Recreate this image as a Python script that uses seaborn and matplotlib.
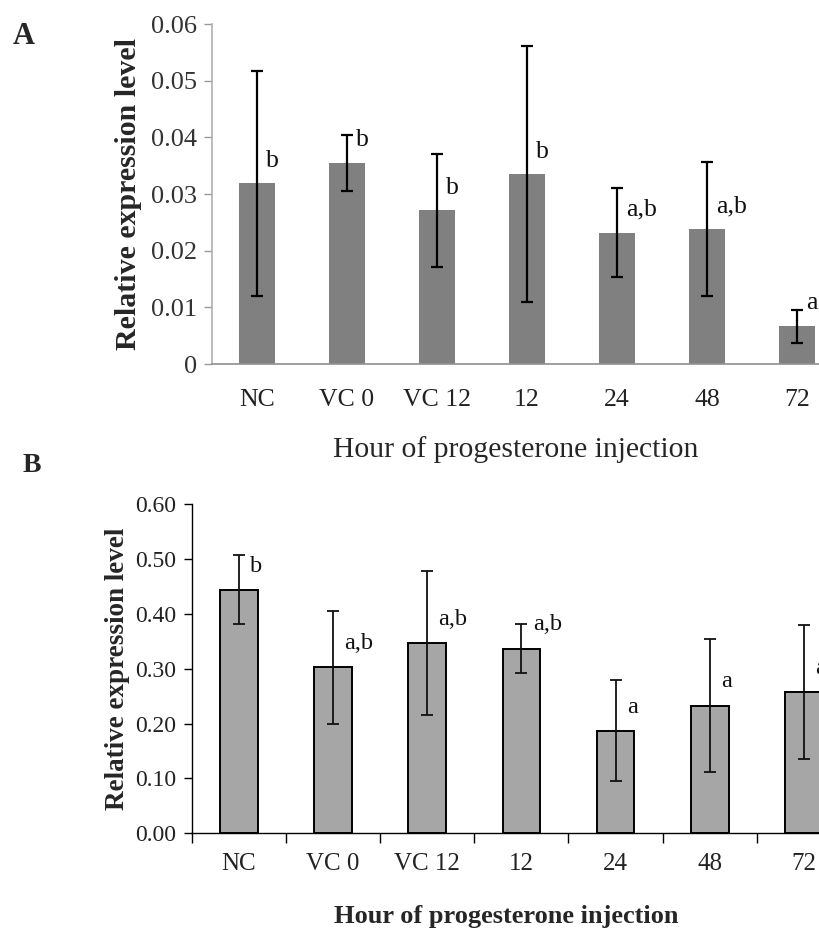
import matplotlib
matplotlib.use("Agg")
import matplotlib.pyplot as plt
import seaborn as sns
import numpy as np
import pandas as pd

categories = ["NC", "VC 0", "VC 12", "12", "24", "48", "72"]

a_means = [0.0319, 0.0355, 0.0271, 0.0335, 0.0232, 0.0238, 0.0067]
a_errs = [0.0199, 0.0050, 0.0099, 0.0226, 0.0078, 0.0118, 0.0029]
a_letters = ["b", "b", "b", "b", "a,b", "a,b", "a"]
a_yticks = [0, 0.01, 0.02, 0.03, 0.04, 0.05, 0.06]
a_yticklabels = ["0", "0.01", "0.02", "0.03", "0.04", "0.05", "0.06"]

b_means = [0.444, 0.303, 0.347, 0.337, 0.187, 0.233, 0.257]
b_errs = [0.063, 0.103, 0.132, 0.044, 0.092, 0.122, 0.122]
b_letters = ["b", "a,b", "a,b", "a,b", "a", "a", "a"]
b_yticks = [0.0, 0.1, 0.2, 0.3, 0.4, 0.5, 0.6]
b_yticklabels = ["0.00", "0.10", "0.20", "0.30", "0.40", "0.50", "0.60"]

sns.set_theme(style="white")
plt.rcParams["font.family"] = ["Liberation Serif", "DejaVu Serif"]

fig = plt.figure(figsize=(8.2, 9.32), dpi=100)

# ---------- Panel A ----------
axA = fig.add_axes([0.2585, 0.6094, 1.0 - 0.2585, 0.9742 - 0.6094])
dfA = pd.DataFrame({"cat": categories, "val": a_means})
sns.barplot(data=dfA, x="cat", y="val", ax=axA, color="#808080", saturation=1,
            width=0.4, edgecolor="#808080", linewidth=0)
xs = np.arange(len(categories))
axA.errorbar(xs, a_means, yerr=a_errs, fmt="none", ecolor="black",
             elinewidth=1.6, capsize=4.5, capthick=1.6)
for x, m, lab in zip(xs, a_means, a_letters):
    axA.text(x + 0.1, m + 0.004, lab, ha="left", va="center", fontsize=18.5,
             color="#111111")
axA.set_ylim(0, 0.06)
axA.set_xlim(-0.5, 6.256)
axA.set_yticks(a_yticks)
axA.set_yticklabels(a_yticklabels, fontsize=19, color="#333333")
axA.set_xticks(xs)
axA.set_xticklabels(categories, fontsize=18.5, color="#222222")
axA.tick_params(axis="x", length=0, pad=18)
axA.tick_params(axis="y", length=6, width=1, color="#999999", pad=5, left=True, direction="out")
for s in ["top", "right"]:
    axA.spines[s].set_visible(False)
axA.spines["left"].set_color("#b0b0b0")
axA.spines["bottom"].set_color("#909090")
axA.spines["left"].set_linewidth(1.2)
axA.spines["bottom"].set_linewidth(1.2)
axA.set_ylabel("Relative expression level", fontsize=21.5, fontweight="bold", labelpad=6)
axA.set_xlabel("Hour of progesterone injection", fontsize=21.3, labelpad=18)
fig.text(0.016, 0.953, "A", fontsize=22, fontweight="bold")

# ---------- Panel B ----------
axB = fig.add_axes([0.2337, 0.1059, 1.0 - 0.2337, 0.4589 - 0.1059])
dfB = pd.DataFrame({"cat": categories, "val": b_means})
sns.barplot(data=dfB, x="cat", y="val", ax=axB, color="#a6a6a6", saturation=1,
            width=0.4, edgecolor="black", linewidth=1.4)
axB.errorbar(xs, b_means, yerr=b_errs, fmt="none", ecolor="#111111",
             elinewidth=1.3, capsize=4.5, capthick=1.3)
for x, m, lab in zip(xs, b_means, b_letters):
    axB.text(x + 0.12, m + 0.043, lab, ha="left", va="center", fontsize=17.5,
             color="#111111")
axB.set_ylim(0, 0.6)
axB.set_xlim(-0.5, 6.17)
axB.set_yticks(b_yticks)
axB.set_yticklabels(b_yticklabels, fontsize=17, color="#222222")
axB.set_xticks(np.arange(-0.5, 6.0, 1.0), minor=True)
axB.set_xticks(xs)
axB.set_xticklabels(categories, fontsize=18, color="#222222")
axB.tick_params(axis="x", which="major", length=0, pad=14)
axB.tick_params(axis="x", which="minor", length=7, width=1, color="black", direction="out", bottom=True)
axB.tick_params(axis="y", length=6, width=1, color="black", direction="out", left=True, pad=5)
for s in ["top", "right"]:
    axB.spines[s].set_visible(False)
axB.spines["left"].set_color("black")
axB.spines["bottom"].set_color("black")
axB.spines["left"].set_linewidth(1.0)
axB.spines["bottom"].set_linewidth(1.0)
axB.set_ylabel("Relative expression level", fontsize=19.5, fontweight="bold", labelpad=4)
axB.set_xlabel("Hour of progesterone injection", fontsize=19, fontweight="bold", labelpad=22)
fig.text(0.028, 0.494, "B", fontsize=20, fontweight="bold")

fig.savefig("out.png", dpi=100)
